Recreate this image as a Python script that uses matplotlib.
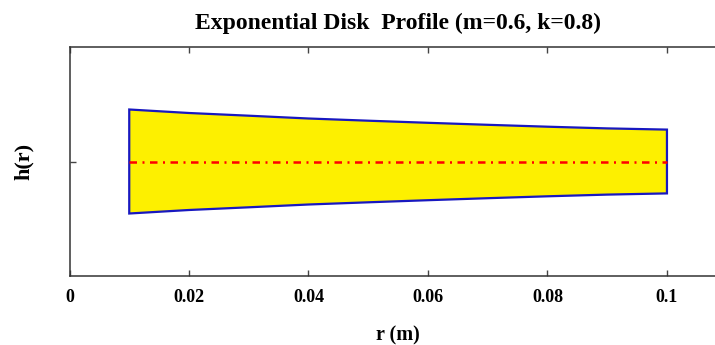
import numpy as np
import matplotlib
matplotlib.use("Agg")
import matplotlib.pyplot as plt

# radius (m) and half thickness of the disk (m)
r = [0.01, 0.02, 0.03, 0.04, 0.05, 0.06, 0.07, 0.08, 0.09, 0.10]
h_half = [0.00520, 0.00485, 0.00458, 0.00430, 0.00408,
          0.00387, 0.00367, 0.00348, 0.00331, 0.00319]
xticks = [0, 0.02, 0.04, 0.06, 0.08, 0.1]
xticklabels = ['0', '0.02', '0.04', '0.06', '0.08', '0.1']

plt.rcParams['font.family'] = ['Liberation Serif', 'DejaVu Serif']
plt.rcParams['font.weight'] = 'bold'

fig = plt.figure(figsize=(7.15, 3.45), dpi=100)
# right side of the frame runs past the image edge, as in the original
ax = fig.add_axes([69.5 / 715, 1 - 275.7 / 345, 657.2 / 715, 228.4 / 345])

r_arr = np.array(r)
h_arr = np.array(h_half)
xs = np.concatenate([r_arr, r_arr[::-1]])
ys = np.concatenate([h_arr, -h_arr[::-1]])
ax.fill(xs, ys, facecolor='#FDF000', edgecolor='#1818C0', linewidth=1.6, zorder=2)
ax.plot([r[0], r[-1]], [0, 0], color='#FF0000', linewidth=1.8,
        linestyle=(0, (3, 2.2, 0.8, 2.2)), zorder=3)

ax.set_xlim(0, 0.11)
ax.set_ylim(-0.01142, 0.01142)
ax.set_xticks(xticks)
ax.set_xticklabels(xticklabels)
ax.set_yticks([0])
ax.set_yticklabels([''])
ax.tick_params(direction='in', length=4, width=1, color='#444444',
               top=True, labelsize=13, pad=9.5)
for s in ax.spines.values():
    s.set_linewidth(1.1)
    s.set_color('#333333')

ax.set_title('Exponential Disk  Profile (m=0.6, k=0.8)', fontsize=17,
             fontweight='bold', pad=13)
ax.set_xlabel('r (m)', fontsize=14.5, fontweight='bold', labelpad=14)
ax.set_ylabel('h(r)', fontsize=16, fontweight='bold', labelpad=16)

fig.savefig('out.png', dpi=100)
